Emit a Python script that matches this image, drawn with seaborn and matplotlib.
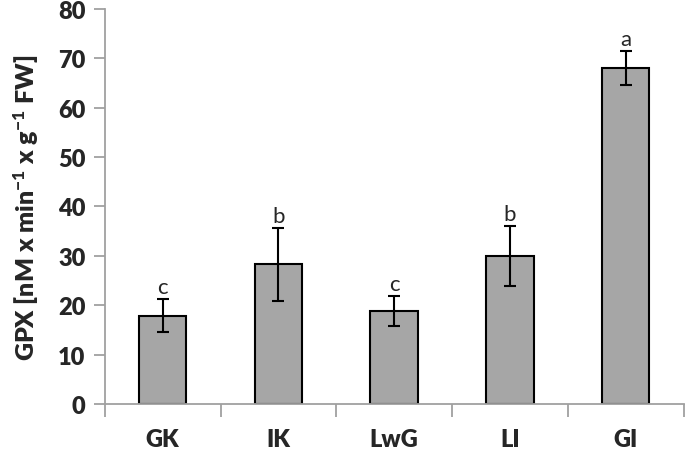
import numpy as np
import pandas as pd
import seaborn as sns
import matplotlib.pyplot as plt
from matplotlib.ticker import FixedLocator

# data
groups = ['GK', 'IK', 'LwG', 'LI', 'GI']
gpx = [17.9, 28.3, 18.8, 30.0, 68.1]
err = [3.3, 7.4, 3.0, 6.1, 3.4]
letters = ['c', 'b', 'c', 'b', 'a']

df = pd.DataFrame({'group': groups, 'gpx': gpx})

sns.set_style('white')
plt.rcParams['font.family'] = ['Lato', 'DejaVu Sans']
plt.rcParams['mathtext.fontset'] = 'custom'
plt.rcParams['mathtext.bf'] = 'Lato:black'
plt.rcParams['mathtext.default'] = 'bf'

fig = plt.figure(figsize=(6.85, 4.56), dpi=100)
ax = fig.add_axes([0.153, 0.112, 0.845, 0.866])

sns.barplot(data=df, x='group', y='gpx', color='#a6a6a6', width=0.41,
            edgecolor='black', linewidth=1.5, saturation=1, errorbar=None, ax=ax)
ax.errorbar(np.arange(len(groups)), gpx, yerr=err, fmt='none', ecolor='black',
            elinewidth=1.5, capsize=4, capthick=1.5)

# significance letters
for i, (v, e, l) in enumerate(zip(gpx, err, letters)):
    ax.text(i, v + e + 0.4, l, ha='center', va='bottom', fontsize=16)

ax.set_xlim(-0.5, 4.5)
ax.set_ylim(0, 80)
ax.set_yticks(range(0, 81, 10))
ax.set_xlabel('')
ax.set_ylabel('GPX [nM x min$^{-1}$ x g$^{-1}$ FW]', fontsize=18,
              fontweight='heavy', labelpad=12)

for s in ['top', 'right']:
    ax.spines[s].set_visible(False)
for s in ['left', 'bottom']:
    ax.spines[s].set_color('#a0a0a0')
    ax.spines[s].set_linewidth(1.3)

ax.tick_params(axis='y', direction='out', length=8, width=1.3, color='#a0a0a0',
               labelsize=17, pad=6, left=True)
ax.xaxis.set_minor_locator(FixedLocator(np.arange(-0.5, 5, 1)))
ax.tick_params(axis='x', which='major', length=0, labelsize=17, pad=17)
ax.tick_params(axis='x', which='minor', direction='out', length=9, width=1.3,
               color='#a0a0a0', bottom=True)
for t in ax.get_xticklabels() + ax.get_yticklabels():
    t.set_fontweight('heavy')

plt.savefig('out.png', dpi=100)
